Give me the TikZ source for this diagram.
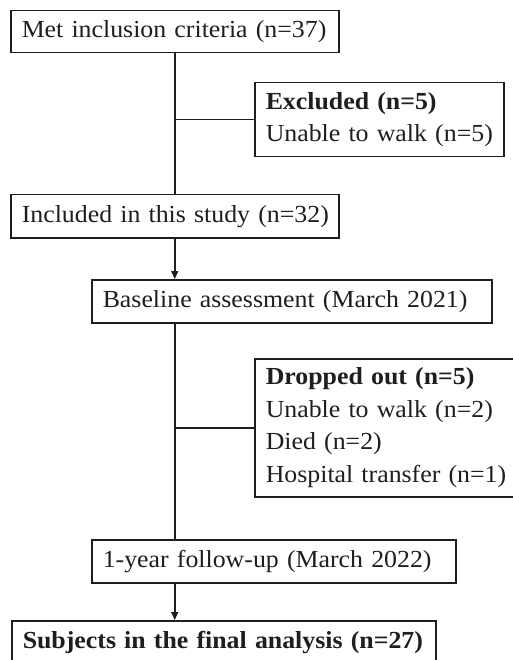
\documentclass[tikz,border=0pt]{standalone}
\usepackage{fontspec}
\setmainfont{Liberation Serif}[FakeStretch=1.055]
\usetikzlibrary{arrows.meta}
\definecolor{ink}{RGB}{30,30,30}
\newcommand\flowboxfont{\fontsize{24.5}{32.5}\selectfont\spaceskip=0.15em plus 0.05em minus 0.05em\relax}
\begin{document}
\begin{tikzpicture}[x=1pt,y=1pt,
  box/.style={draw=ink, line width=1.5pt, text=ink, anchor=north west, inner xsep=11pt, inner ysep=0pt,
    align=left, font=\flowboxfont},
  conn/.style={draw=ink, line width=1.5pt},
  arr/.style={conn, -{Triangle[length=8pt,width=7pt]}}]
\useasboundingbox (0,0) rectangle (512,-660);
\node[box, text width=306pt, minimum height=42pt] (A) at (10,-10) {\mbox{Met inclusion criteria (n=37)}};
\node[box, text width=227pt, minimum height=74pt] (X) at (254,-82) {\mbox{\textbf{Excluded (n=5)}}\\\mbox{Unable to walk (n=5)}};
\node[box, text width=306pt, minimum height=43pt] (B) at (10,-194) {\mbox{Included in this study (n=32)}};
\node[box, text width=378pt, minimum height=43pt] (C) at (91,-279) {\mbox{Baseline assessment (March 2021)}};
\node[box, text width=240pt, minimum height=138pt] (Y) at (254,-358) {\mbox{\textbf{Dropped out (n=5)}}\\\mbox{Unable to walk (n=2)}\\\mbox{Died (n=2)}\\\mbox{Hospital transfer (n=1)}};
\node[box, text width=342pt, minimum height=43pt] (D) at (91,-539) {\mbox{1-year follow-up (March 2022)}};
\node[box, text width=402pt, minimum height=43pt] (E) at (11,-620) {\mbox{\textbf{Subjects in the final analysis (n=27)}}};
\coordinate (xj) at (A.south |- X.west);
\coordinate (yj) at (A.south |- Y.west);
\draw[conn] (A.south) -- (B.north);
\draw[conn] (xj) -- (X.west);
\draw[arr] (B.south) -- (B.south |- C.north);
\draw[conn] (B.south |- C.south) -- (B.south |- D.north);
\draw[conn] (yj) -- (Y.west);
\draw[arr] (B.south |- D.south) -- (B.south |- E.north);
\end{tikzpicture}
\end{document}
